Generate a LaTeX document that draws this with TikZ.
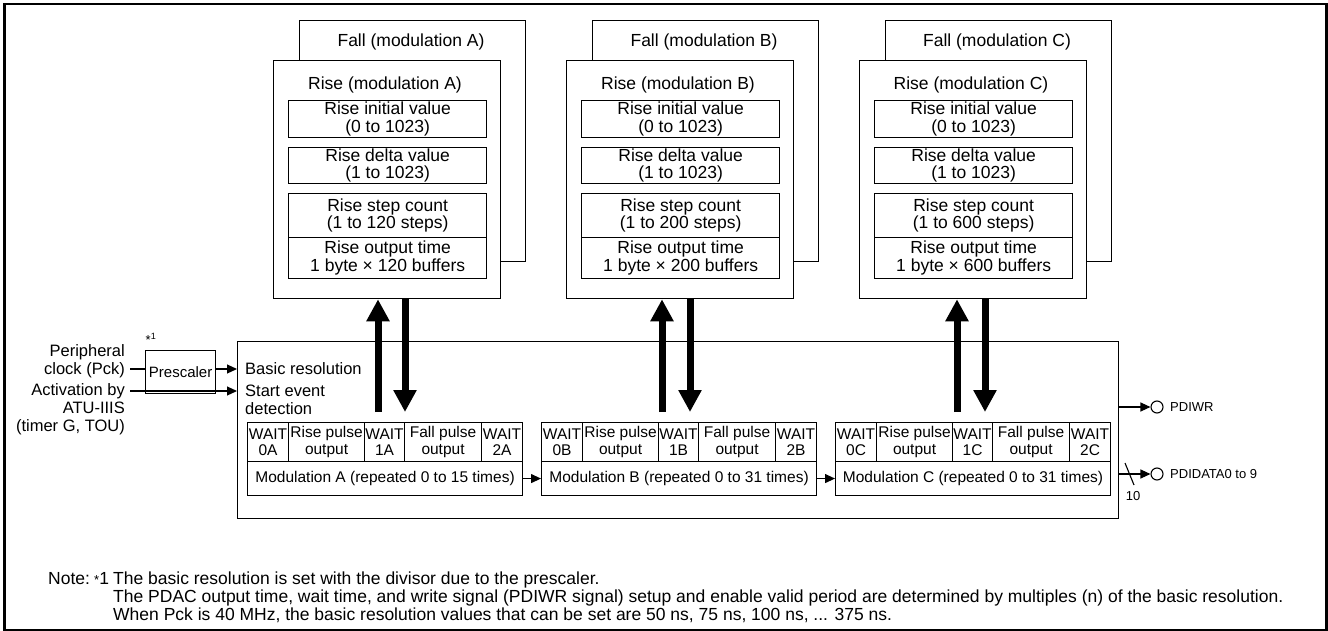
\documentclass[tikz,border=0pt]{standalone}
\usepackage{fontspec}
\setmainfont{Liberation Sans}
\usetikzlibrary{arrows.meta,calc}
\newcommand\fbig{\fontsize{17.5}{17.5}\selectfont}
\newcommand\fmid{\fontsize{15.5}{16.5}\selectfont}
\newcommand\fleft{\fontsize{16.5}{18}\selectfont}
\newcommand\fpre{\fontsize{15}{16}\selectfont}
\newcommand\fsml{\fontsize{13}{14}\selectfont}
\newcommand\fnote{\fontsize{17.5}{18}\selectfont}
\begin{document}
\begin{tikzpicture}[x=1pt,y=-1pt,line join=miter,
  box/.style={draw,line width=1.3pt,fill=white,inner sep=0pt,anchor=north west},
  lbl/.style={inner sep=0pt,align=center,font=\fbig},
  ibox/.style={box,minimum width=198pt,align=center,font=\fbig},
  cell/.style={draw,line width=1.1pt,inner sep=0pt,anchor=north west,align=center,font=\fmid,minimum height=39pt},
  sarrow/.style={line width=1.1pt,-{Triangle[width=9pt,length=10pt]}},
  barrow/.style={line width=7pt,-{Triangle[width=22pt,length=22pt]}},
  port/.style={draw,circle,line width=1.1pt,minimum size=12pt,inner sep=0pt},
  plain/.style={inner sep=0pt}]
\useasboundingbox (0,0) rectangle (1328,631);
\node[draw,line width=2.5pt,inner sep=0pt,anchor=north west,minimum width=1322pt,minimum height=626pt] (frame) at (3,3) {};

% register groups
\foreach \L/\o/\n in {A/0/120,B/293/200,C/586/600}{
  \node[box,minimum width=226pt,minimum height=241pt] (fall\L) at (299+\o,20) {};
  \node[lbl] (falltxt\L) at (411+\o,42) {Fall (modulation \L)};
  \node[box,minimum width=227pt,minimum height=238pt] (rise\L) at (273+\o,60) {};
  \node[lbl] (risetxt\L) at (385+\o,85) {Rise (modulation \L)};
  \node[ibox,minimum height=37pt] (ini\L) at (288+\o,100) {Rise initial value\\(0 to 1023)};
  \node[ibox,minimum height=36pt] (del\L) at (288+\o,147) {Rise delta value\\(1 to 1023)};
  \node[ibox,minimum height=44pt] (stp\L) at (288+\o,193) {Rise step count\\(1 to \n\ steps)};
  \node[ibox,minimum height=41pt] (out\L) at (288+\o,237) {Rise output time\\1 byte × \n\ buffers};
}

% main block
\node[box,minimum width=881pt,minimum height=177pt] (main) at (237,341) {};
\node[plain,font=\fleft,anchor=west] (basic) at (245,369) {Basic resolution};
\node[plain,font=\fleft,anchor=west,align=left] (start) at (245,400) {Start event\\detection};

% modulation tables
\foreach \L/\o/\t in {A/0/15,B/294/31,C/588/31}{
  \node[cell,minimum width=41pt] (wz\L) at (247+\o,422) {WAIT\\0\L};
  \node[cell,minimum width=76pt] (rp\L) at (288+\o,422) {Rise pulse\\output};
  \node[cell,minimum width=40pt] (wo\L) at (364+\o,422) {WAIT\\1\L};
  \node[cell,minimum width=77pt] (fp\L) at (404+\o,422) {Fall pulse\\output};
  \node[cell,minimum width=41pt] (wt\L) at (481+\o,422) {WAIT\\2\L};
  \node[cell,minimum width=275pt,minimum height=34pt] (mod\L) at (247+\o,461) {Modulation \L\ (repeated 0 to \t\ times)};
}
\draw[sarrow] (modA.east) -- (modB.west);
\draw[sarrow] (modB.east) -- (modC.west);

% thick arrows
\foreach \L/\u/\d in {A/378/405,B/662/690,C/957/985}{
  \coordinate (up\L) at (\u,412);
  \coordinate (dn\L) at (\d,412);
  \draw[barrow] (up\L) -- (up\L |- rise\L.south);
  \draw[barrow] (dn\L |- rise\L.south) -- (dn\L);
}

% left inputs
\node[box,minimum width=70pt,minimum height=43pt,font=\fpre] (pre) at (145,350) {Prescaler};
\node[plain,font=\fsml] (star) at (151,339) {*\textsuperscript{1}};
\node[plain,font=\fleft,align=right,anchor=east] (pck) at (125,361) {Peripheral\\clock (Pck)};
\node[plain,font=\fleft,align=right,anchor=east] (act) at (125,409) {Activation by\\ATU-IIIS\\(timer G, TOU)};
\coordinate (pckout) at (130,369);
\coordinate (actout) at (130,391);
\draw[line width=1.1pt] (pckout) -- (pckout -| pre.west);
\draw[sarrow] (pckout -| pre.east) -- (pckout -| main.west);
\draw[sarrow] (actout) -- (actout -| main.west);

% right outputs
\node[port] (wrc) at (1157,407) {};
\node[port] (dtc) at (1157,474) {};
\draw[sarrow] (wrc -| main.east) -- (wrc.west);
\draw[sarrow] (dtc -| main.east) -- (dtc.west);
\node[plain,font=\fsml,anchor=west] (wrl) at (1170,407) {PDIWR};
\node[plain,font=\fsml,anchor=west] (dtl) at (1170,474) {PDIDATA0 to 9};
\coordinate (sla) at (1125,463);
\coordinate (slb) at (1134,485);
\draw[line width=1.1pt] (sla) -- (slb);
\node[plain,font=\fsml] (ten) at (1133,496) {10};

% notes
\node[plain,font=\fnote,anchor=base west] (notel) at (48,584) {Note:};
\node[plain,font=\fnote,anchor=base west] (notes) at (94,584) {{\fontsize{13}{13}\selectfont *}1};
\node[plain,font=\fnote,anchor=base west] (n1) at (113,584) {The basic resolution is set with the divisor due to the prescaler.};
\node[plain,font=\fnote,anchor=base west] (n2) at (113,602) {The PDAC output time, wait time, and write signal (PDIWR signal) setup and enable valid period are determined by multiples (n) of the basic resolution.};
\node[plain,font=\fnote,anchor=base west] (n3) at (113,620) {When Pck is 40 MHz, the basic resolution values that can be set are 50 ns, 75 ns, 100 ns, ... 375 ns.};
\end{tikzpicture}
\end{document}
